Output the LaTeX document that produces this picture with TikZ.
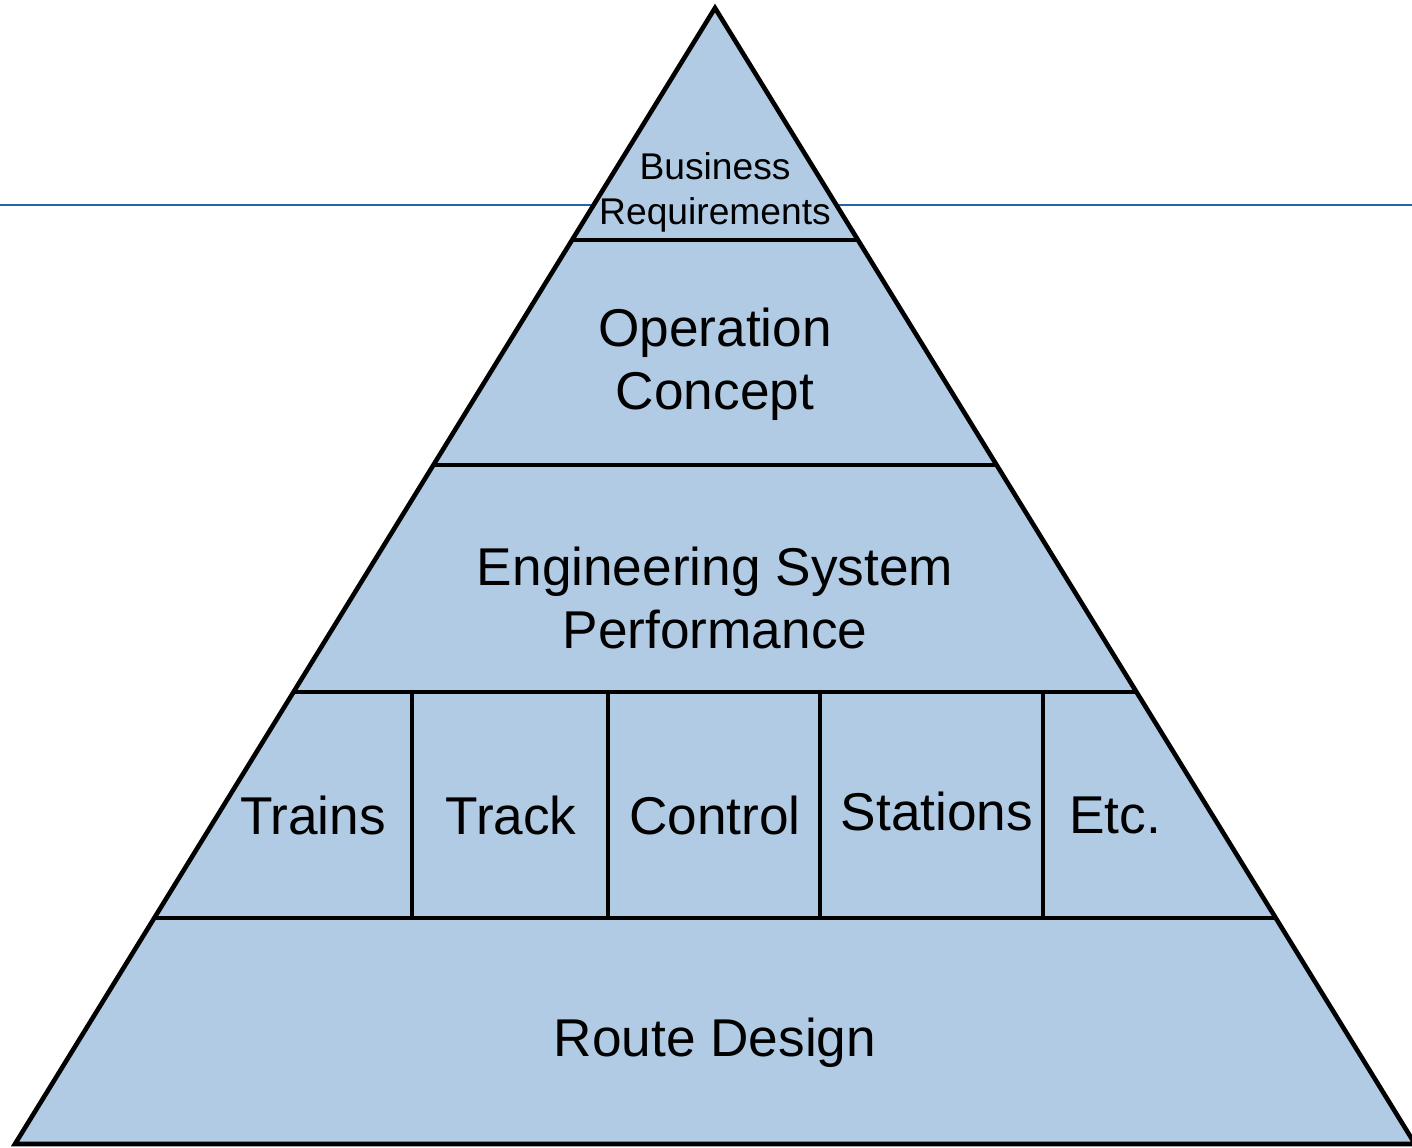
\documentclass[tikz,border=0pt]{standalone}
\usepackage{fontspec}
\setmainfont{Liberation Sans}
\definecolor{fillblue}{HTML}{B0CBE3}
\definecolor{lineblue}{HTML}{2266AA}
\tikzset{
  edge/.style={line width=2.3pt, black},
  lbl/.style={font=\fontsize{26.6}{31.5}\selectfont, align=center, inner sep=0pt},
  smalllbl/.style={font=\fontsize{18.6}{22.5}\selectfont, align=center, inner sep=0pt}
}
\begin{document}
\begin{tikzpicture}[x=0.5pt,y=-0.5pt]
\useasboundingbox (0,0) rectangle (1412,1147);
\draw[lineblue, line width=1pt] (0,205) -- (1412,205);
\coordinate (apex) at (715,8);
\coordinate (bl) at (15,1144);
\coordinate (br) at (1415,1144);
\fill[fillblue] (bl) -- (apex) -- (br) -- cycle;
\begin{scope}
\clip (bl) -- (apex) -- (br) -- cycle;
\foreach \yy in {240,465,692,918} \draw[edge] (0,\yy) -- (1420,\yy);
\end{scope}
\foreach \xx in {412,608,820,1043} \draw[edge] (\xx,692) -- (\xx,918);
\draw[edge, line join=miter] (bl) -- (apex) -- (br) -- cycle;
\node[smalllbl] (br1) at (715,192) {Business\\Requirements};
\node[lbl] (oc) at (715,364) {Operation\\Concept};
\node[lbl] (esp) at (715,598) {Engineering System\\Performance};
\node[lbl] (trains) at (313,815) {Trains};
\node[lbl] (track) at (511,815) {Track};
\node[lbl] (control) at (715,815) {Control};
\node[lbl] (stations) at (937,811) {Stations};
\node[lbl] (etc) at (1115,815) {Etc.};
\node[lbl] (route) at (715,1043) {Route Design};
\end{tikzpicture}
\end{document}
